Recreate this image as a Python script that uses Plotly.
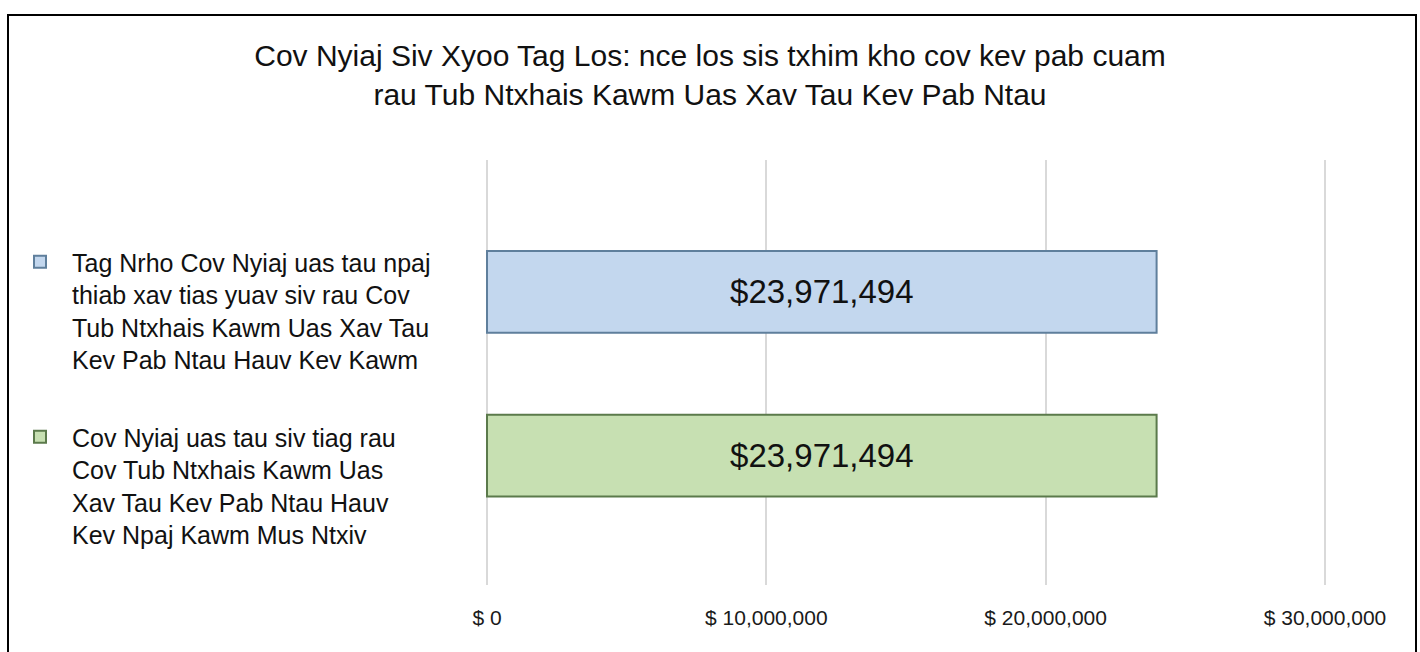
import plotly.graph_objects as go

# ---- data ----
categories = [
    "Tag Nrho Cov Nyiaj uas tau npaj<br>thiab xav tias yuav siv rau Cov<br>Tub Ntxhais Kawm Uas Xav Tau<br>Kev Pab Ntau Hauv Kev Kawm",
    "Cov Nyiaj uas tau siv tiag rau<br>Cov Tub Ntxhais Kawm Uas<br>Xav Tau Kev Pab Ntau Hauv<br>Kev Npaj Kawm Mus Ntxiv",
]
values = [23971494, 23971494]
fill_colors = ["#c3d7ee", "#c7e0b2"]
line_colors = ["#5f7f9c", "#5b7a4b"]
tick_values = [0, 10000000, 20000000, 30000000]
tick_labels = ["$ 0", "$ 10,000,000", "$ 20,000,000", "$ 30,000,000"]
title_text = ("Cov Nyiaj Siv Xyoo Tag Los: nce los sis txhim kho cov kev pab cuam<br>"
              "rau Tub Ntxhais Kawm Uas Xav Tau Kev Pab Ntau")

FONT = "Liberation Sans, Arial, sans-serif"

# plot area geometry (pixels)
L, W, T, H = 485, 842, 160, 425
px_per_unit = 838 / 30000000
pad_units = 2 / px_per_unit

fig = go.Figure()
for i, (cat, val) in enumerate(zip(categories, values)):
    fig.add_trace(go.Bar(
        x=[val], y=[cat], orientation="h", name=cat,
        legendgroup=f"g{i}",
        width=0.5,
        marker=dict(color=fill_colors[i], line=dict(color=line_colors[i], width=2)),
        texttemplate="$%{x:,.0f}", textposition="inside", insidetextanchor="middle",
        textfont=dict(family=FONT, size=33, color="#111111"),
        hoverinfo="x+name",
    ))

fig.update_layout(
    width=1420, height=652,
    margin=dict(l=L, r=1420 - L - W, t=T, b=652 - T - H, autoexpand=False),
    paper_bgcolor="white", plot_bgcolor="white",
    barmode="overlay",
    font=dict(family=FONT, color="#111111"),
    title=dict(text=title_text, x=0.5, xanchor="center", xref="container",
               y=1 - 66 / 652, yanchor="middle", yref="container",
               font=dict(family=FONT, size=30, color="#111111")),
    xaxis=dict(range=[-pad_units, 30000000 + pad_units], tickvals=tick_values, ticktext=tick_labels,
               showgrid=True, gridcolor="#d9d9d9", gridwidth=2,
               zeroline=False, showline=False, ticks="",
               ticklabelstandoff=18,
               tickfont=dict(family=FONT, size=21, color="#1a1a1a")),
    yaxis=dict(categoryorder="array", categoryarray=[categories[1], categories[0]],
               range=[-0.79, 1.805], showticklabels=False, showgrid=False,
               zeroline=False, showline=False, ticks=""),
    legend=dict(x=(8 - L) / W, xanchor="left", y=0.814, yanchor="top",
                font=dict(family=FONT, size=25, color="#111111"),
                itemwidth=54,
                valign="top", tracegroupgap=42, traceorder="grouped",
                bgcolor="rgba(0,0,0,0)"),
    shapes=[dict(type="rect", xref="paper", yref="paper",
                 x0=(8 - L) / W, x1=(1416 - L) / W,
                 y0=(T + H - 660) / H, y1=(T + H - 15) / H,
                 line=dict(color="black", width=2), fillcolor="rgba(0,0,0,0)", layer="below")],
)

fig.write_html("out.html")
